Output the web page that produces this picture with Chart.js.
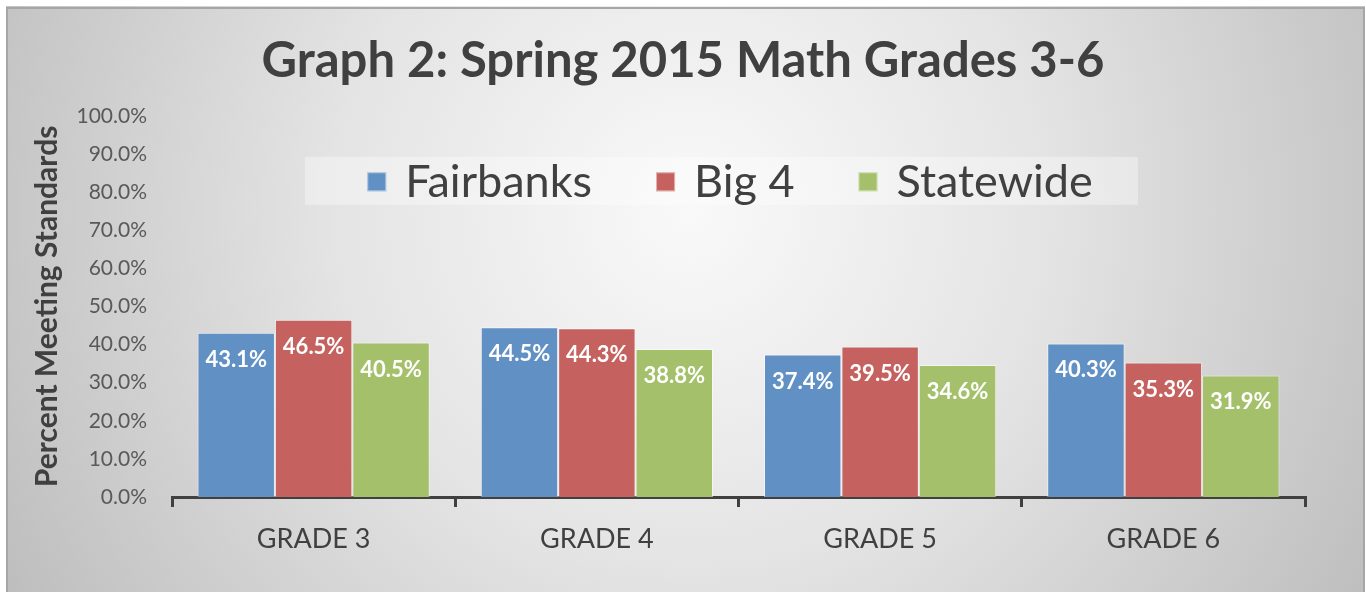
<!DOCTYPE html>
<html>
<head>
<meta charset="utf-8">
<title>Graph 2: Spring 2015 Math Grades 3-6</title>
<script src="https://cdn.jsdelivr.net/npm/chart.js@4.4.1/dist/chart.umd.min.js"></script>
<style>
  html, body { margin: 0; padding: 0; background: #ffffff; }
  #wrap { width: 1366px; height: 592px; }
</style>
</head>
<body>
<div id="wrap"><canvas id="grades-chart" width="1366" height="592"></canvas></div>
<script>
"use strict";

const grades = ["GRADE 3", "GRADE 4", "GRADE 5", "GRADE 6"];
const seriesNames = ["Fairbanks", "Big 4", "Statewide"];
const fairbanks = [43.1, 44.5, 37.4, 40.3];
const big4 = [46.5, 44.3, 39.5, 35.3];
const statewide = [40.5, 38.8, 34.6, 31.9];
const yTicks = [0, 10, 20, 30, 40, 50, 60, 70, 80, 90, 100];

const FONT = "Lato, 'Open Sans', 'DejaVu Sans', sans-serif";
const DARK = "#404040";
const colors = ["#6190c5", "#c5625f", "#a4c06a"];

// grey radial backdrop with the thin frame around it
const backdropPlugin = {
  id: "backdrop",
  beforeDraw(chart) {
    const { ctx, width, height } = chart;
    ctx.save();
    const g = ctx.createRadialGradient(690, 210, 0, 690, 210, 790);
    g.addColorStop(0, "#f9f9f9");
    g.addColorStop(0.45, "#e4e4e4");
    g.addColorStop(1, "#bdbdbd");
    ctx.fillStyle = g;
    ctx.fillRect(0, 0, width, height);
    ctx.fillStyle = "#ffffff";
    ctx.fillRect(0, 0, width, 6);
    ctx.fillRect(0, 0, 6, height);
    ctx.fillRect(width - 1, 0, 1, height);
    ctx.strokeStyle = "#a6a6a6";
    ctx.lineWidth = 2;
    ctx.strokeRect(7, 8, width - 9, height + 20);
    ctx.restore();
  },
};

// white value labels just under the top of each bar
const barLabelsPlugin = {
  id: "barLabels",
  afterDatasetsDraw(chart) {
    const { ctx } = chart;
    ctx.save();
    ctx.font = `bold 22px ${FONT}`;
    ctx.fillStyle = "#ffffff";
    ctx.textAlign = "center";
    ctx.textBaseline = "middle";
    chart.data.datasets.forEach((ds, i) => {
      chart.getDatasetMeta(i).data.forEach((bar, j) => {
        ctx.fillText(`${ds.data[j].toFixed(1)}%`, bar.x, bar.y + 27);
      });
    });
    ctx.restore();
  },
};

// legend sits inside the plot area, on a faint light panel
const innerLegendPlugin = {
  id: "innerLegend",
  afterDraw(chart) {
    const { ctx, chartArea: ca } = chart;
    const boxLeft = ca.left + 133;
    const boxRight = ca.left + 966;
    const boxTop = ca.top + 41;
    const boxH = 48;
    ctx.save();
    ctx.fillStyle = "rgba(255,255,255,0.35)";
    ctx.fillRect(boxLeft, boxTop, boxRight - boxLeft, boxH);

    ctx.font = `45px ${FONT}`;
    ctx.textBaseline = "middle";
    const marker = 19;
    const markerGap = 19;
    const itemGap = 64;
    const items = chart.data.datasets.map(ds => ({
      label: ds.label,
      color: ds.backgroundColor,
      w: ctx.measureText(ds.label).width,
    }));
    const total = items.reduce((s, it) => s + marker + markerGap + it.w, 0) + itemGap * (items.length - 1);
    let x = ca.left + 558 - total / 2;
    const cy = boxTop + boxH / 2 + 1;
    items.forEach(it => {
      ctx.fillStyle = it.color;
      ctx.fillRect(x, cy - marker / 2, marker, marker);
      ctx.strokeStyle = "rgba(255,255,255,0.5)";
      ctx.lineWidth = 1;
      ctx.strokeRect(x + 0.5, cy - marker / 2 + 0.5, marker - 1, marker - 1);
      x += marker + markerGap;
      ctx.fillStyle = DARK;
      ctx.textAlign = "left";
      ctx.fillText(it.label, x, cy + 1);
      x += it.w + itemGap;
    });
    ctx.restore();
  },
};

function makeDataset(i, values) {
  return {
    label: seriesNames[i],
    data: values,
    backgroundColor: colors[i],
    borderColor: "rgba(255,255,255,0.55)",
    borderWidth: 1,
    categoryPercentage: 0.82,
    barPercentage: 1.0,
  };
}

function init() {
  const ctx = document.getElementById("grades-chart").getContext("2d");
  new Chart(ctx, {
    type: "bar",
    data: {
      labels: grades,
      datasets: [
        makeDataset(0, fairbanks),
        makeDataset(1, big4),
        makeDataset(2, statewide),
      ],
    },
    options: {
      responsive: false,
      animation: false,
      devicePixelRatio: 1,
      layout: { padding: { left: 8, right: 8, top: 0, bottom: 0 } },
      plugins: {
        legend: { display: false },
        tooltip: { enabled: false },
        title: {
          display: true,
          text: "Graph 2: Spring 2015 Math Grades 3-6",
          color: DARK,
          font: { family: FONT, size: 49, weight: "bold" },
          padding: { top: 32, bottom: 25 },
        },
      },
      scales: {
        x: {
          grid: {
            display: true,
            drawOnChartArea: false,
            drawTicks: true,
            tickLength: 10,
            offset: true,
            color: DARK,
            lineWidth: 3,
          },
          border: { display: true, color: DARK, width: 3 },
          ticks: { color: DARK, font: { family: FONT, size: 27 }, padding: 16 },
          afterFit: s => { s.height = 95; },
        },
        y: {
          min: 0,
          max: 100,
          afterBuildTicks: s => { s.ticks = yTicks.map(v => ({ value: v })); },
          grid: { display: false, drawTicks: false },
          border: { display: false },
          ticks: {
            color: "#595959",
            font: { family: FONT, size: 21 },
            padding: 25,
            callback: v => `${Number(v).toFixed(1)}%`,
          },
          title: {
            display: true,
            text: "Percent Meeting Standards",
            color: DARK,
            font: { family: FONT, size: 30, weight: "bold" },
            padding: { top: 21, bottom: 0 },
          },
          afterFit: s => { s.width = 164; },
        },
        yRight: {
          type: "linear",
          position: "right",
          display: true,
          grid: { display: false, drawTicks: false },
          border: { display: false },
          ticks: { display: false },
          afterFit: s => { s.width = 53; },
        },
      },
    },
    plugins: [backdropPlugin, barLabelsPlugin, innerLegendPlugin],
  });
}

document.addEventListener("DOMContentLoaded", init);
</script>
</body>
</html>
